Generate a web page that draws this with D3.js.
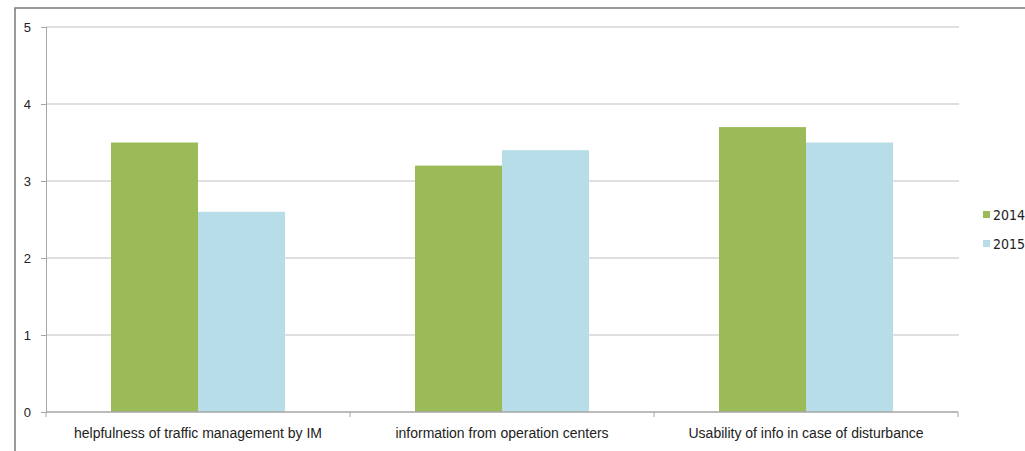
<!DOCTYPE html>
<html>
<head>
<meta charset="utf-8">
<script src="https://cdn.jsdelivr.net/npm/d3@7"></script>
<style>
  html, body { margin: 0; padding: 0; background: #fff; }
  svg { display: block; }
  text { font-family: "Liberation Sans Narrow", "DejaVu Sans Condensed", Lato, sans-serif; fill: #222; }
</style>
</head>
<body>
<svg id="chart" width="1025" height="451"></svg>
<script>
const categories = ["helpfulness of traffic management by IM", "information from operation centers", "Usability of info in case of disturbance"];
const seriesNames = ["2014", "2015"];
const values2014 = [3.5, 3.2, 3.7];
const values2015 = [2.6, 3.4, 3.5];
const yTicks = [0, 1, 2, 3, 4, 5];
const colors = ["#9BBB59", "#B7DEE8"];

const svg = d3.select("#chart");
const W = 1025, H = 451;

// outer frame (continues off the right and bottom edges)
svg.append("rect")
  .attr("x", 15).attr("y", 8)
  .attr("width", W + 20).attr("height", H + 20)
  .attr("fill", "#fff").attr("stroke", "#7a7a7a").attr("stroke-width", 1.5);

const plot = { left: 46, right: 958, top: 27, bottom: 412 };

const x0 = d3.scaleBand().domain(categories).range([plot.left, plot.right]).paddingInner(0).paddingOuter(0);
const x1 = d3.scaleBand().domain(seriesNames).range([0, x0.bandwidth()]).paddingInner(0).paddingOuter(0.747);
const y = d3.scaleLinear().domain([0, 5]).range([plot.bottom, plot.top]);

// gridlines
svg.append("g").selectAll("line").data(yTicks.filter(d => d > 0)).join("line")
  .attr("x1", plot.left).attr("x2", plot.right + 1)
  .attr("y1", d => y(d)).attr("y2", d => y(d))
  .attr("stroke", "#d4d4d4").attr("stroke-width", 1.5);

// y axis
const yAxis = d3.axisLeft(y).tickValues(yTicks).tickSize(5).tickPadding(10).tickFormat(d3.format("d"));
const yg = svg.append("g").attr("transform", `translate(${plot.left},0)`).call(yAxis);
yg.select(".domain").attr("stroke", "#a6a6a6").attr("stroke-width", 1).attr("d", `M0.5,${plot.top}V${plot.bottom}`);
yg.selectAll(".tick line").attr("stroke", "#a6a6a6");
yg.selectAll(".tick text").attr("font-size", 13).attr("fill", "#222").style("font-family", "'Liberation Sans Narrow', sans-serif");

// bars
const data = categories.map((c, i) => ({ cat: c, vals: [values2014[i], values2015[i]] }));
const groups = svg.append("g").selectAll("g").data(data).join("g")
  .attr("transform", d => `translate(${x0(d.cat)},0)`);
groups.selectAll("rect").data(d => d.vals.map((v, j) => ({ name: seriesNames[j], v, j }))).join("rect")
  .attr("x", d => x1(d.name))
  .attr("width", x1.bandwidth())
  .attr("y", d => y(d.v))
  .attr("height", d => y(0) - y(d.v))
  .attr("fill", d => colors[d.j]);

// x axis
const xAxis = d3.axisBottom(x0).tickSize(0).tickPadding(16);
const xg = svg.append("g").attr("transform", `translate(0,${plot.bottom})`).call(xAxis);
xg.select(".domain").attr("stroke", "#a6a6a6").attr("stroke-width", 1.5).attr("d", `M${plot.left},0H${plot.right}`);
xg.selectAll(".tick text").attr("font-size", 14).attr("fill", "#222").style("font-family", "'Liberation Sans Narrow', sans-serif");
// category separator ticks
const sepPos = [plot.left, ...categories.map(c => x0(c) + x0.bandwidth())];
xg.selectAll("line.sep").data(sepPos).join("line").attr("class", "sep")
  .attr("x1", d => d).attr("x2", d => d).attr("y1", 0).attr("y2", 5)
  .attr("stroke", "#a6a6a6");

// legend
const lg = svg.append("g").attr("transform", "translate(983,211)");
const items = lg.selectAll("g").data(seriesNames).join("g")
  .attr("transform", (d, i) => `translate(0,${i * 29})`);
items.append("rect").attr("width", 7).attr("height", 7).attr("fill", (d, i) => colors[i]);
items.append("text").attr("x", 10).attr("y", 9).attr("font-size", 14).text(d => d);
</script>
</body>
</html>
